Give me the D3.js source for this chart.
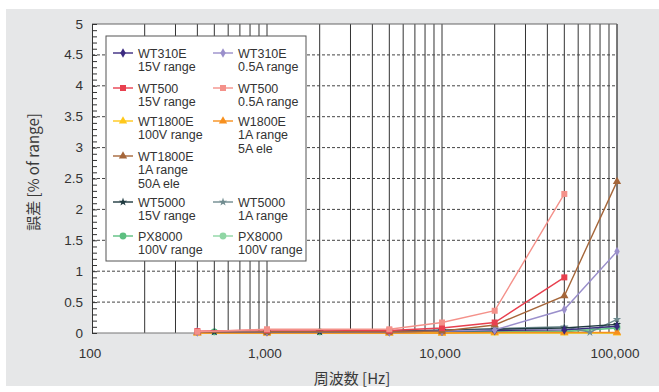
<!DOCTYPE html>
<html><head><meta charset="utf-8">
<script src="https://cdn.jsdelivr.net/npm/d3@7"></script>
<style>
html,body{margin:0;padding:0;background:#fff;}
svg{display:block;}
text{font-family:"Liberation Sans",Arial,"Noto Sans CJK JP",sans-serif;fill:#333;}
.cjk{font-family:"Noto Sans CJK JP","Liberation Sans",sans-serif;fill:#3a3a3a;}
</style></head>
<body>
<svg id="c" width="659" height="392"></svg>
<script>
const xTicks = [100, 1000, 10000, 100000];
const xTickLabels = ["100", "1,000", "10,000", "100,000"];
const yTicks = [0, 0.5, 1, 1.5, 2, 2.5, 3, 3.5, 4, 4.5, 5];
const yTickLabels = ["0", "0.5", "1", "1.5", "2", "2.5", "3", "3.5", "4", "4.5", "5"];

const freqA = [400, 1000, 5000, 10000, 20000, 50000, 100000];
const freqB = [500, 1000, 2000, 5000, 10000, 20000, 50000, 100000];
const freqC = [500, 1000, 2000, 5000, 10000, 20000, 50000, 70000, 100000];
const freqD = [400, 1000, 5000, 10000, 20000, 50000];

const wt310e15V  = [0.02, 0.02, 0.02, 0.03, 0.04, 0.05, 0.11];
const wt310e05A  = [0.02, 0.02, 0.02, 0.03, 0.05, 0.38, 1.32];
const wt50015V   = [0.03, 0.05, 0.04, 0.08, 0.17, 0.90];
const wt50005A   = [0.02, 0.06, 0.06, 0.17, 0.36, 2.25];
const wt1800e100V = [0.0, 0.0, 0.0, 0.0, 0.0, 0.0, 0.0];
const w1800e1A5A  = [0.0, 0.0, 0.0, 0.0, 0.01, 0.01, 0.01];
const wt1800e1A50A = [0.01, 0.02, 0.02, 0.03, 0.13, 0.60, 2.45];
const wt500015V  = [0.02, 0.02, 0.02, 0.03, 0.04, 0.06, 0.08, 0.14];
const wt50001A   = [0.02, 0.02, 0.02, 0.03, 0.05, 0.07, 0.10, 0.01, 0.22];
const px8000a    = [0.02, 0.02, 0.02, 0.02, 0.02, 0.02, 0.02, 0.08];
const px8000b    = [0.02, 0.02, 0.02, 0.02, 0.02, 0.02, 0.03, 0.11];

const seriesNames = [
  ["WT310E","15V range"], ["WT310E","0.5A range"],
  ["WT500","15V range"], ["WT500","0.5A range"],
  ["WT1800E","100V range"], ["W1800E","1A range","5A ele"],
  ["WT1800E","1A range","50A ele"],
  ["WT5000","15V range"], ["WT5000","1A range"],
  ["PX8000","100V range"], ["PX8000","100V range"]
];
const seriesColors = ["#3b2a80","#9a8fcb","#e8404f","#f4918a","#ffc81a","#f7901e","#a5663a","#1f3a40","#708c90","#5cbf80","#8fd6a4"];
const seriesSymbols = ["diamond","diamond","square","square","triangle","triangle","triangle","star","star","circle","circle"];
const seriesX = [freqA, freqA, freqD, freqD, freqA, freqA, freqA, freqB, freqC, freqB, freqB];
const seriesY = [wt310e15V, wt310e05A, wt50015V, wt50005A, wt1800e100V, w1800e1A5A, wt1800e1A50A, wt500015V, wt50001A, px8000a, px8000b];

const svg = d3.select("#c");
svg.append("rect").attr("x",6).attr("y",9).attr("width",653).attr("height",377).attr("fill","#e6e7e8");

const L=92, R=617, T=24, B=333;
const x = d3.scaleLog().domain([100,100000]).range([L,R]);
const y = d3.scaleLinear().domain([0,5]).range([B,T]);

svg.append("rect").attr("x",L).attr("y",T).attr("width",R-L).attr("height",B-T).attr("fill","#fff");

// vertical grid
const vgrid = [];
for (let d=100; d<100000; d*=10) for (let k=2; k<=10; k++) vgrid.push(d*k);
svg.append("g").selectAll("line").data(vgrid).join("line")
  .attr("x1",d=>x(d)).attr("x2",d=>x(d)).attr("y1",T).attr("y2",B)
  .attr("stroke","#333").attr("stroke-width",1);

// horizontal dashed grid
svg.append("g").selectAll("line").data(yTicks.filter(v=>v>0&&v<5)).join("line")
  .attr("x1",L).attr("x2",R).attr("y1",d=>y(d)).attr("y2",d=>y(d))
  .attr("stroke","#444").attr("stroke-width",1).attr("stroke-dasharray","3,2");

// frame top & right & bottom
svg.append("line").attr("x1",L).attr("x2",R).attr("y1",T).attr("y2",T).attr("stroke","#666").attr("stroke-width",1.2);
svg.append("line").attr("x1",R).attr("x2",R).attr("y1",T).attr("y2",B).attr("stroke","#666").attr("stroke-width",1.2);
svg.append("line").attr("x1",L).attr("x2",R).attr("y1",B).attr("y2",B).attr("stroke","#777").attr("stroke-width",1.2);

// y axis with inward minor ticks
const yAxis = d3.axisRight(y).tickValues(d3.range(0,5.001,0.1)).tickSize(5).tickFormat("");
const gy = svg.append("g").attr("transform",`translate(${L},0)`).call(yAxis);
gy.select(".domain").attr("stroke","#333");
gy.selectAll(".tick line").attr("stroke","#333");

// y tick labels
svg.append("g").selectAll("text").data(yTicks).join("text")
  .attr("x",83).attr("y",d=>y(d)+4.5).attr("text-anchor","end")
  .attr("font-size",13.5).text((d,i)=>yTickLabels[i]);

// x tick labels
svg.append("g").selectAll("text").data(xTicks).join("text")
  .attr("x",d=>x(d)-2).attr("y",358).attr("text-anchor","middle")
  .attr("font-size",13.5).text((d,i)=>xTickLabels[i]);

// titles
svg.append("text").attr("class","cjk").attr("transform","translate(39,172) rotate(-90)")
  .attr("text-anchor","middle").attr("font-size",15).text("誤差 [% of range]");
svg.append("text").attr("class","cjk").attr("x",352).attr("y",384)
  .attr("text-anchor","middle").attr("font-size",15).text("周波数 [Hz]");

const symMap = {diamond:d3.symbolDiamond, square:d3.symbolSquare, triangle:d3.symbolTriangle, star:d3.symbolStar, circle:d3.symbolCircle};
const symSize = {diamond:26, square:36, triangle:30, star:22, circle:36};

const line = d3.line().x(d=>x(d[0])).y(d=>y(d[1]));
const order = [10,9,4,5,8,7,0,1,6,2,3];
order.forEach(i=>{
  const pts = seriesX[i].map((f,j)=>[f, seriesY[i][j]]);
  const g = svg.append("g");
  g.append("path").datum(pts).attr("d",line).attr("fill","none")
    .attr("stroke",seriesColors[i]).attr("stroke-width",1.4);
  g.selectAll("path.m").data(pts).join("path").attr("class","m")
    .attr("transform",d=>`translate(${x(d[0])},${y(d[1])})`)
    .attr("d",d3.symbol().type(symMap[seriesSymbols[i]]).size(symSize[seriesSymbols[i]]))
    .attr("fill",seriesColors[i]);
});

// legend
const lg = svg.append("g");
lg.append("rect").attr("x",106).attr("y",36).attr("width",200).attr("height",225)
  .attr("fill","#fff").attr("stroke","#555").attr("stroke-width",1);
const rowY = [53, 88, 121, 156, 202, 236];
const slots = [[0,0],[0,1],[1,0],[1,1],[2,0],[2,1],[3,0],[4,0],[4,1],[5,0],[5,1]];
slots.forEach((s,i)=>{
  const cx = s[1]===0 ? 113 : 213;
  const cy = rowY[s[0]];
  const g = lg.append("g");
  g.append("line").attr("x1",cx).attr("x2",cx+20).attr("y1",cy).attr("y2",cy)
    .attr("stroke",seriesColors[i]).attr("stroke-width",1.4);
  g.append("path").attr("transform",`translate(${cx+10},${cy})`)
    .attr("d",d3.symbol().type(symMap[seriesSymbols[i]]).size(symSize[seriesSymbols[i]]))
    .attr("fill",seriesColors[i]);
  seriesNames[i].forEach((t,k)=>{
    g.append("text").attr("x",cx+25).attr("y",cy+4.5+k*13.5).attr("font-size",12.5).text(t);
  });
});
</script>
</body></html>
